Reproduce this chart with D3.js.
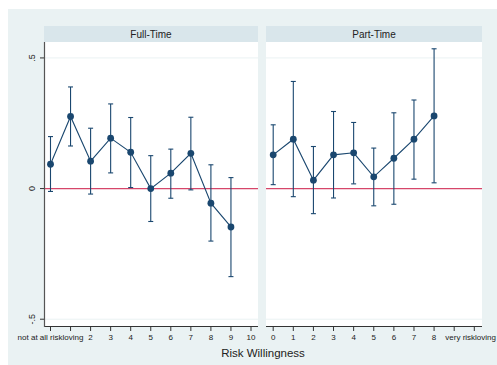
<!DOCTYPE html>
<html>
<head>
<meta charset="utf-8">
<script src="https://cdn.jsdelivr.net/npm/d3@7"></script>
<style>
body { margin: 0; background: #fff; }
text { font-family: Arial, "Liberation Sans", sans-serif; fill: #222; }
</style>
</head>
<body>
<svg width="497" height="365"></svg>
<script>
// risk levels on the x axis
var riskLevels = [0, 1, 2, 3, 4, 5, 6, 7, 8, 9, 10];
var tickLabels = ["not at all riskloving", "1", "2", "3", "4", "5", "6", "7", "8", "9", "10"];
var tickLabelsRight = ["0", "1", "2", "3", "4", "5", "6", "7", "8", "9", "very riskloving"];

// Full-Time estimates with confidence intervals
var fullX = [0, 1, 2, 3, 4, 5, 6, 7, 8, 9];
var fullEst = [0.093, 0.276, 0.105, 0.193, 0.139, 0.0, 0.059, 0.135, -0.056, -0.147];
var fullLo = [-0.011, 0.163, -0.021, 0.060, 0.004, -0.126, -0.037, -0.005, -0.201, -0.337];
var fullHi = [0.199, 0.389, 0.231, 0.324, 0.272, 0.126, 0.151, 0.273, 0.091, 0.042];

// Part-Time estimates
var partX = [0, 1, 2, 3, 4, 5, 6, 7, 8];
var partEst = [0.129, 0.189, 0.032, 0.129, 0.137, 0.045, 0.116, 0.189, 0.278];
var partLo = [0.015, -0.031, -0.096, -0.036, 0.018, -0.066, -0.060, 0.036, 0.022];
var partHi = [0.244, 0.410, 0.161, 0.295, 0.253, 0.155, 0.290, 0.339, 0.535];

var yTicks = [-0.5, 0, 0.5];

var svg = d3.select("svg");
var navy = "#1a476f";

svg.append("rect")
    .attr("x", 8).attr("y", 9)
    .attr("width", 489).attr("height", 356)
    .attr("fill", "#eaf2f3");

var plotTop = 42, plotBottom = 326;
var y = d3.scaleLinear().domain([-0.526, 0.561]).range([plotBottom, plotTop]);

var panels = [
    { title: "Full-Time", x0: 44, x1: 258, xs: [50.5, 251], labels: tickLabels,
      xs_: fullX, est: fullEst, lo: fullLo, hi: fullHi },
    { title: "Part-Time", x0: 266, x1: 482, xs: [273.2, 474.3], labels: tickLabelsRight,
      xs_: partX, est: partEst, lo: partLo, hi: partHi }
];

panels.forEach(function(p, pi)
{
    var x = d3.scaleLinear().domain([0, 10]).range(p.xs);
    var g = svg.append("g");

    // title strip
    g.append("rect")
        .attr("x", p.x0).attr("y", 26)
        .attr("width", p.x1 - p.x0).attr("height", plotTop - 26)
        .attr("fill", "#d9e6eb");
    g.append("text")
        .attr("x", (p.x0 + p.x1) / 2).attr("y", 38)
        .attr("text-anchor", "middle")
        .attr("font-size", 10)
        .text(p.title);

    // plot area
    g.append("rect")
        .attr("x", p.x0).attr("y", plotTop)
        .attr("width", p.x1 - p.x0).attr("height", plotBottom - plotTop)
        .attr("fill", "#fff");

    // grid lines
    g.selectAll(".grid")
        .data(yTicks)
        .enter().append("line")
        .attr("x1", p.x0).attr("x2", p.x1)
        .attr("y1", function(d) { return y(d); })
        .attr("y2", function(d) { return y(d); })
        .style("stroke", "#eaf2f3")
        .attr("stroke-width", 1);

    // reference line at zero
    g.append("line")
        .attr("x1", p.x0).attr("x2", p.x1)
        .attr("y1", y(0)).attr("y2", y(0))
        .style("stroke", "#d6466a")
        .attr("stroke-width", 1.3);

    // error bars
    var bars = g.append("g").selectAll("g")
        .data(p.xs_)
        .enter().append("g");
    bars.append("line")
        .attr("x1", function(d) { return x(d); })
        .attr("x2", function(d) { return x(d); })
        .attr("y1", function(d, i) { return y(p.lo[i]); })
        .attr("y2", function(d, i) { return y(p.hi[i]); })
        .style("stroke", navy).attr("stroke-width", 1.1);
    [p.lo, p.hi].forEach(function(arr)
    {
        bars.append("line")
            .attr("x1", function(d) { return x(d) - 2.5; })
            .attr("x2", function(d) { return x(d) + 2.5; })
            .attr("y1", function(d, i) { return y(arr[i]); })
            .attr("y2", function(d, i) { return y(arr[i]); })
            .style("stroke", navy).attr("stroke-width", 1.1);
    });

    // connected line and markers
    var line = d3.line()
        .x(function(d) { return x(d); })
        .y(function(d, i) { return y(p.est[i]); });
    g.append("path")
        .datum(p.xs_)
        .attr("d", line)
        .attr("fill", "none")
        .style("stroke", navy)
        .attr("stroke-width", 1.1);
    g.selectAll(".pt")
        .data(p.xs_)
        .enter().append("circle")
        .attr("cx", function(d) { return x(d); })
        .attr("cy", function(d, i) { return y(p.est[i]); })
        .attr("r", 3.4)
        .attr("fill", navy);

    // x axis
    g.append("line")
        .attr("x1", p.x0).attr("x2", p.x1)
        .attr("y1", plotBottom + 0.5).attr("y2", plotBottom + 0.5)
        .style("stroke", "#333").attr("stroke-width", 1);
    g.selectAll(".xt")
        .data(riskLevels)
        .enter().append("line")
        .attr("x1", function(d) { return x(d); })
        .attr("x2", function(d) { return x(d); })
        .attr("y1", plotBottom).attr("y2", plotBottom + 5)
        .style("stroke", "#333").attr("stroke-width", 1);
    g.selectAll(".xl")
        .data(riskLevels)
        .enter().append("text")
        .filter(function(d) { return !(pi === 0 && d === 1) && !(pi === 1 && d === 9); })
        .attr("x", function(d) { return (pi === 1 && d === 10) ? 496 : x(d); })
        .attr("y", 340)
        .attr("text-anchor", function(d) { return (pi === 1 && d === 10) ? "end" : "middle"; })
        .attr("font-size", 8)
        .text(function(d) { return p.labels[d]; });
});

// y axis (left panel only)
svg.append("line")
    .attr("x1", 44.5).attr("x2", 44.5)
    .attr("y1", plotTop).attr("y2", plotBottom + 1)
    .style("stroke", "#555").attr("stroke-width", 1.2);
svg.selectAll(".yt")
    .data(yTicks)
    .enter().append("line")
    .attr("x1", 40).attr("x2", 44)
    .attr("y1", function(d) { return y(d); })
    .attr("y2", function(d) { return y(d); })
    .style("stroke", "#333").attr("stroke-width", 1);
svg.selectAll(".yl")
    .data(yTicks)
    .enter().append("text")
    .attr("transform", function(d) { return "translate(35," + y(d) + ") rotate(-90)"; })
    .attr("text-anchor", "middle")
    .attr("font-size", 9)
    .text(function(d) { return d === 0 ? "0" : (d > 0 ? ".5" : "-.5"); });

svg.append("text")
    .attr("x", 263).attr("y", 357)
    .attr("text-anchor", "middle")
    .attr("font-size", 11.5)
    .text("Risk Willingness");
</script>
</body>
</html>
